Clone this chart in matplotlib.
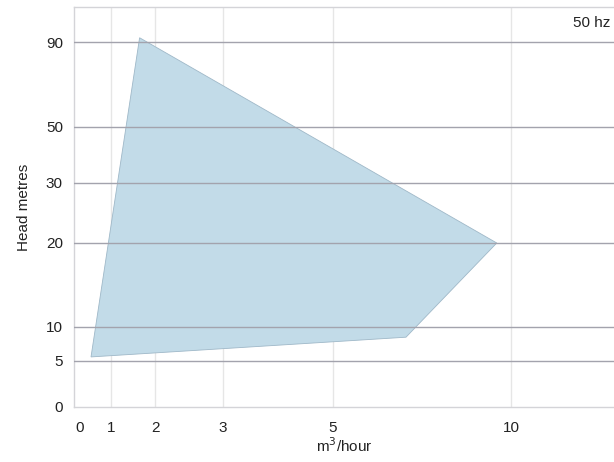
import numpy as np
import matplotlib
matplotlib.use('Agg')
import matplotlib.pyplot as plt
import matplotlib.transforms as mtrans
from matplotlib.patches import Polygon

plt.rcParams['font.family'] = ['Liberation Sans', 'DejaVu Sans']

# tick values on both axes
x_ticks = [0, 1, 2, 3, 5, 10]
y_ticks = [0, 5, 10, 20, 30, 50, 90]

# pump operating envelope (flow m3/h, head m)
flow = [1.65, 9.6, 7.05, 0.46]
head = [92, 20, 8.5, 5.6]

# the chart uses an irregular axis spacing, so map values piecewise
x_vals = [0, 1, 2, 3, 5, 10, 15.8]
x_pos = [0, 37, 81, 149, 259, 437, 540]
y_vals = [0, 5, 10, 20, 30, 50, 90, 106.5]
y_pos = [0, 46, 80, 164, 224, 280, 365, 400]


def fx(v):
    return np.interp(v, x_vals, x_pos)


def fx_inv(v):
    return np.interp(v, x_pos, x_vals)


def fy(v):
    return np.interp(v, y_vals, y_pos)


def fy_inv(v):
    return np.interp(v, y_pos, y_vals)


fig = plt.figure(figsize=(6.14, 4.62), dpi=100)
ax = fig.add_axes([74 / 614, 1 - 407 / 462, 1 - 74 / 614, 400 / 462])
ax.set_xscale('function', functions=(fx, fx_inv))
ax.set_yscale('function', functions=(fy, fy_inv))
ax.set_xlim(0, x_vals[-1])
ax.set_ylim(0, y_vals[-1])

ax.add_patch(Polygon(list(zip(flow, head)), closed=True, facecolor='#c2dbe8',
                     edgecolor='#9fb8c8', linewidth=0.6, zorder=2))

ax.set_xticks(x_ticks)
ax.set_xticklabels([str(t) for t in x_ticks])
ax.set_yticks(y_ticks)
ax.set_yticklabels([str(t) for t in y_ticks])
ax.minorticks_off()
ax.tick_params(length=0, labelsize=11, colors='#222222')
ax.tick_params(axis='x', pad=10)
ax.tick_params(axis='y', pad=8)
# first x label sits a little right of the spine
lbl0 = ax.get_xticklabels()[0]
lbl0.set_transform(lbl0.get_transform() + mtrans.ScaledTranslation(4 / 72, 0, fig.dpi_scale_trans))

for t in x_ticks[1:]:
    ax.axvline(t, color='#e6e6e6', linewidth=1.0, zorder=1)
for t in y_ticks[1:]:
    ax.axhline(t, color='#a3a3ad', linewidth=1.0, zorder=3)

for s in ax.spines.values():
    s.set_color('#d4d4d8')
    s.set_linewidth(1.0)
ax.spines['right'].set_visible(False)

ax.set_xlabel('m$^3$/hour', fontsize=11, color='#222222', labelpad=1)
ax.set_ylabel('Head metres', fontsize=11, color='#222222', labelpad=11)
ax.text(0.993, 0.96, '50 hz', transform=ax.transAxes, ha='right', va='center',
        fontsize=11, color='#222222')

fig.savefig('out.png', dpi=100)
